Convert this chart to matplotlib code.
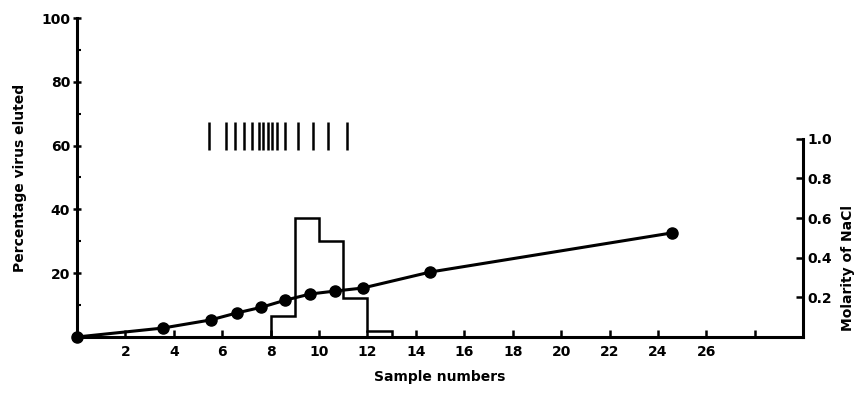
import numpy as np
import matplotlib.pyplot as plt

# Histogram: percentage virus eluted per sample
bin_edges = [8, 9, 10, 11, 12, 13]
pct_eluted = [6.5, 37.3, 30.0, 12.2, 2.0]

# Molarity of NaCl gradient (right axis)
sample_no = [0, 3.54, 5.52, 6.59, 7.62, 8.61, 9.64, 10.67, 11.8, 14.6, 24.56]
molarity = [0, 0.045, 0.086, 0.121, 0.150, 0.186, 0.217, 0.232, 0.247, 0.328, 0.525]

# Vertical marks near the top of the plot
mark_x = [5.44, 6.17, 6.54, 6.92, 7.22, 7.50, 7.70, 7.88, 8.06, 8.27,
          8.60, 9.12, 9.74, 10.35, 11.15]

x_ticks = [2, 4, 6, 8, 10, 12, 14, 16, 18, 20, 22, 24, 26, 28]
x_labels = ['2', '4', '6', '8', '10', '12', '14', '16', '18', '20', '22', '24', '26', '']
m_ticks = [0.2, 0.4, 0.6, 0.8, 1.0]
m_labels = ['0.2', '0.4', '0.6', '0.8', '1.0']

plt.rcParams['font.family'] = 'DejaVu Sans'
plt.rcParams['font.weight'] = 'bold'

fig = plt.figure(figsize=(8.6, 3.94), dpi=100)
ax = fig.add_axes([0.0895, 0.1447, 0.8445, 0.8096])

ax.stairs(pct_eluted, bin_edges, baseline=0, color='black', linewidth=1.8)
ax.vlines(mark_x, 58.6, 67.4, color='black', linewidth=1.8)

ax.set_xlim(0, 30)
ax.set_ylim(0, 100)
ax.spines['top'].set_visible(False)
ax.spines['right'].set_visible(False)
for s in ['left', 'bottom']:
    ax.spines[s].set_linewidth(2.2)

ax.set_xticks(x_ticks)
ax.set_xticklabels(x_labels)
ax.set_yticks([20, 40, 60, 80, 100])
ax.set_yticks([10, 30, 50, 70, 90], minor=True)
ax.tick_params(axis='x', direction='in', length=5, width=1.8, pad=6, labelsize=10)
ax.tick_params(axis='y', which='major', direction='inout', length=6, width=1.8, pad=2, labelsize=10)
ax.tick_params(axis='y', which='minor', direction='in', length=3, width=1.5)

ax.set_xlabel('Sample numbers', fontsize=10, fontweight='bold', labelpad=8)
ax.set_ylabel('Percentage virus eluted', fontsize=10, fontweight='bold', labelpad=10)

ax2 = ax.twinx()
ax2.plot(sample_no, molarity, color='black', linewidth=2.2, marker='o',
         markersize=8, zorder=5, clip_on=False)
ax2.set_ylim(0, 1.61)
for s in ['top', 'left', 'bottom']:
    ax2.spines[s].set_visible(False)
ax2.spines['right'].set_linewidth(2.2)
ax2.spines['right'].set_bounds(0, 1.0)
ax2.set_yticks(m_ticks)
ax2.set_yticklabels(m_labels)
ax2.tick_params(axis='y', direction='in', length=5, width=1.8, pad=3, labelsize=10)

fig.text(848 / 860, 1 - 268 / 394, 'Molarity of NaCl', rotation=90,
         ha='center', va='center', fontsize=10, fontweight='bold')

fig.savefig('out.png', dpi=100)
